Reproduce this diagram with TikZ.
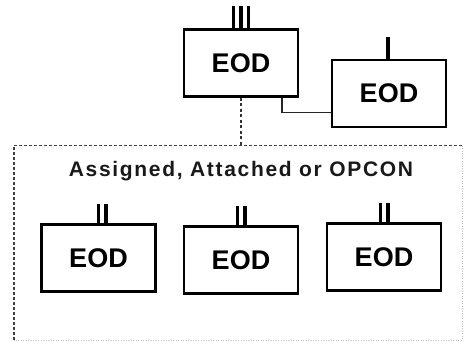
\documentclass[tikz,border=0pt]{standalone}
\usepackage{fontspec}
\setmainfont{Liberation Sans}
\newfontfamily\spacedfont[LetterSpace=8]{Liberation Sans}
\usetikzlibrary{calc}

% echelon bars above a unit: node, number of bars, bar length, x shift
\newcommand{\echelon}[4]{%
  \foreach \k in {1,...,#2}
    \draw[bar] ($(#1.north)+({#4+(\k-(#2+1)/2)*7.5},0)$) -- ++(0,-#3);
}

\begin{document}
\begin{tikzpicture}[
    x=1pt, y=-1pt,
    unit/.style={rectangle, draw=black, line width=2.7pt, fill=white,
                 minimum width=114pt, minimum height=67pt, inner sep=0pt,
                 font=\fontsize{27}{30}\selectfont\bfseries},
    bar/.style={line width=3.5pt, color=black},
    frame/.style={rectangle, draw=none, minimum width=448pt, minimum height=194pt, inner sep=0pt},
    edge/.style={line width=1.3pt, color=black!85},
    cutline/.style={line width=1.3pt, color=black!80, dash pattern=on 3pt off 2.5pt},
    title/.style={font=\spacedfont\fontsize{21}{24}\selectfont\bfseries, text=black!90, anchor=base}
  ]

\useasboundingbox (0,0) rectangle (466,342);

% ---------------- group frame ----------------
\node[frame] (grp) at (238,243) {};
\draw[line width=1.4pt, black!75, dash pattern=on 3pt off 2pt]
  (grp.south west) -- (grp.north west) -- (grp.north east);
\draw[line width=1pt, black!25, dash pattern=on 1pt off 1.5pt]
  (grp.north east) -- (grp.south east) -- (grp.south west);
\node[title] (ttl) at (241,177) {Assigned, Attached or OPCON};

% ---------------- units ----------------
\node[unit] (hq) at (241,63)    {EOD};
\node[unit] (rt) at (389,93.5)  {EOD};
\node[unit] (u1) at (98.5,258)  {EOD};
\node[unit] (u2) at (241,260)   {EOD};
\node[unit] (u3) at (384,257)   {EOD};

% ---------------- echelons ----------------
\echelon{hq}{3}{22.5}{0}
\echelon{rt}{1}{22}{-1}
\echelon{u1}{2}{19.5}{3.5}
\echelon{u2}{2}{19.5}{0}
\echelon{u3}{2}{19.5}{0}

% ---------------- links ----------------
\draw[edge] ($(hq.south)+(41,0)$) |- ($(rt.west)+(0,19)$);
\draw[cutline] (hq.south) -- (hq.south |- grp.north);

\end{tikzpicture}
\end{document}
